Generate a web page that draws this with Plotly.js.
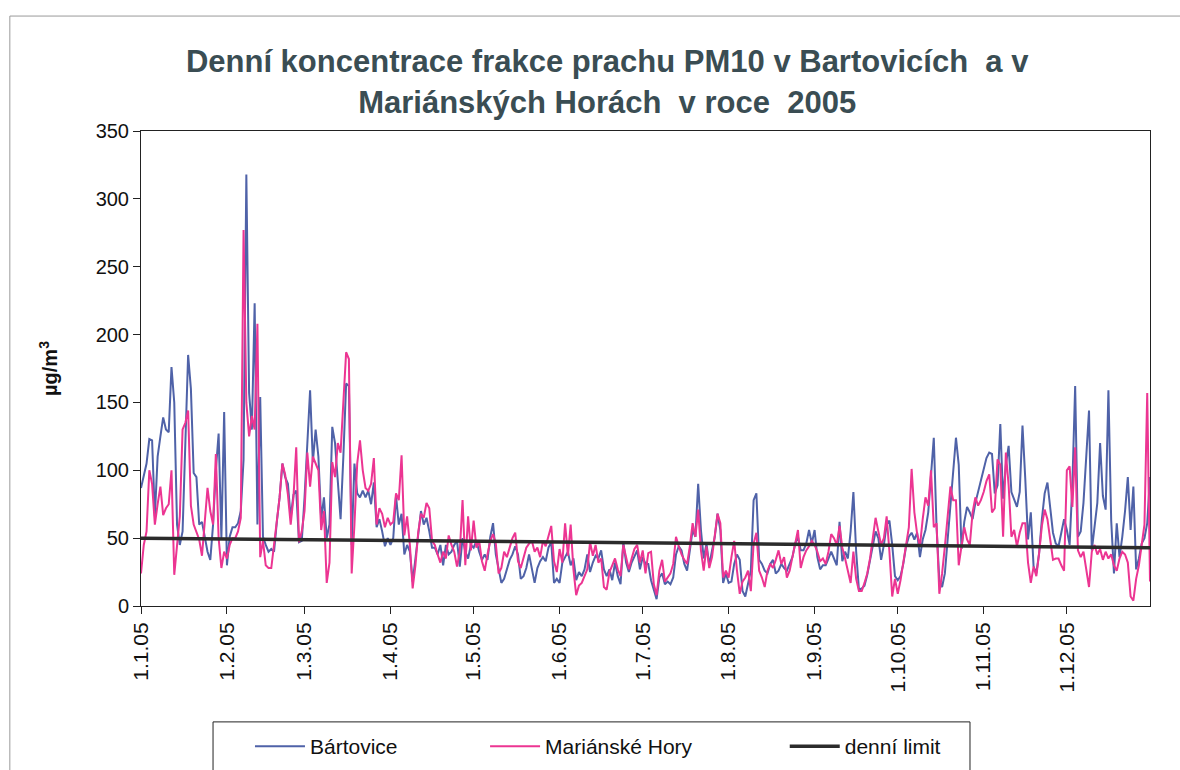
<!DOCTYPE html>
<html>
<head>
<meta charset="utf-8">
<script src="https://cdn.plot.ly/plotly-3.0.1.min.js"></script>
<style>html,body{margin:0;padding:0;background:#fff;}#chart{width:1180px;height:770px;}</style>
</head>
<body>
<div id="chart"></div>
<script>
// Daily PM10 values (µg/m3), month by month
const bartoviceJan = [87,95,105,123,122,66,110,125,139,130,128,176,150,60,45,55,120,185,160,98,95,60,62,50,40,34,60,100,127,50,143];
const bartoviceFeb = [30,51,58,58,61,70,108,318,157,130,223,60,154,51,45,40,42,40,62,80,105,95,90,65,82,85,47,48];
const bartoviceMar = [80,122,159,106,130,110,64,80,50,60,132,120,88,64,110,164,162,45,105,83,80,85,80,85,75,91,58,64,55,44,50];
const bartoviceApr = [45,50,81,60,68,38,45,40,18,35,54,70,60,65,55,43,43,38,45,30,45,38,40,45,48,29,50,40,35,45];
const bartoviceMay = [43,48,40,34,38,34,51,61,38,28,17,20,28,34,38,44,38,20,22,28,38,26,17,28,33,36,33,43,47,17,20];
const bartoviceJun = [17,32,36,40,30,35,19,25,22,27,38,25,32,37,35,41,27,22,27,19,32,22,16,47,32,25,32,37,41,27];
const bartoviceJul = [36,31,31,19,11,5,21,24,16,18,16,21,38,44,41,31,26,41,56,51,90,56,35,46,30,41,51,68,56,17,24];
const bartoviceAug = [17,18,31,38,34,11,7,16,26,78,83,34,31,26,24,31,34,24,26,31,28,26,31,36,46,51,41,41,46,56,46];
const bartoviceSep = [56,36,27,30,30,35,40,35,30,62,33,40,35,55,84,40,12,13,15,23,33,45,55,50,34,45,60,63,45,22];
const bartoviceOct = [19,22,31,44,51,54,49,54,36,49,56,69,94,124,58,19,14,24,49,74,99,124,104,42,62,73,69,64,76,84,94];
const bartoviceNov = [100,109,113,112,83,89,134,79,104,118,84,79,73,84,133,94,49,69,29,24,39,64,83,91,74,54,46,44,54,64];
const bartoviceDec = [56,45,90,162,51,55,76,110,144,41,60,76,120,81,71,159,63,24,61,36,51,70,95,56,88,27,35,46,50,61,95];

const horyJan = [24,45,55,100,90,60,75,88,67,72,75,100,23,45,66,130,135,144,74,60,55,49,37,62,87,70,60,112,50,28,40];
const horyFeb = [35,45,50,50,55,65,277,150,125,140,130,208,36,48,30,28,28,45,60,80,105,97,82,60,80,117,47,55];
const horyMar = [70,113,88,110,105,100,56,70,17,32,106,95,120,113,150,187,182,24,60,105,122,100,87,85,90,109,60,72,68,58,65];
const horyApr = [60,62,83,78,111,52,66,45,13,30,54,68,65,76,72,48,45,38,32,40,35,52,45,40,29,40,78,30,66,41];
const horyMay = [63,43,48,33,26,38,48,53,46,24,28,40,36,43,50,54,33,28,36,43,46,48,40,43,36,48,44,51,59,33,25];
const horyJun = [42,32,61,37,60,27,8,15,17,22,27,47,37,45,32,35,14,12,25,30,35,27,22,45,37,27,35,42,45,32];
const horyJul = [41,24,39,40,16,8,26,34,18,21,24,31,51,44,38,34,31,44,61,51,71,41,26,44,28,36,51,68,61,21,26];
const horyAug = [21,36,48,26,9,18,21,26,11,46,54,26,21,14,26,31,28,34,41,31,36,21,26,36,46,56,28,36,41,44,48];
const horySep = [45,40,33,35,31,40,53,50,45,59,43,35,25,17,40,20,11,11,17,24,35,50,65,55,45,50,66,40,7,20];
const horyOct = [9,19,31,43,58,101,69,53,44,64,80,74,100,58,61,9,24,44,65,88,78,78,30,44,58,49,45,69,80,74,78];
const horyNov = [84,92,97,69,72,108,104,51,113,89,51,56,44,54,61,61,32,17,29,22,39,59,71,64,49,34,35,35,30,26];
const horyDec = [100,103,73,117,41,36,40,26,14,40,45,38,42,34,40,35,38,30,26,35,40,38,32,7,4,20,30,45,60,157,18];

// daily limit line as drawn (start / end of year)
const limitDays = [0, 364];
const limitValues = [50, 43];

// month start day index and tick labels
const monthStarts = [0,31,59,90,120,151,181,212,243,273,304,334];
const monthLabels = ["1.1.05","1.2.05","1.3.05","1.4.05","1.5.05","1.6.05","1.7.05","1.8.05","1.9.05","1.10.05","1.11.05","1.12.05"];

const bartovice = [].concat(bartoviceJan,bartoviceFeb,bartoviceMar,bartoviceApr,bartoviceMay,bartoviceJun,bartoviceJul,bartoviceAug,bartoviceSep,bartoviceOct,bartoviceNov,bartoviceDec);
const hory = [].concat(horyJan,horyFeb,horyMar,horyApr,horyMay,horyJun,horyJul,horyAug,horySep,horyOct,horyNov,horyDec);
const days = bartovice.map((_, i) => i);

const FONT = '"Liberation Sans", Arial, sans-serif';

const traces = [
  {x: days, y: bartovice, type: 'scatter', mode: 'lines', name: 'Bártovice', legend: 'legend',
   line: {color: '#4f62a8', width: 2}},
  {x: days, y: hory, type: 'scatter', mode: 'lines', name: 'Mariánské Hory', legend: 'legend2',
   line: {color: '#ec3592', width: 2}},
  {x: limitDays, y: limitValues, type: 'scatter', mode: 'lines', name: 'denní limit', legend: 'legend3',
   line: {color: '#2b2b2b', width: 3.5}}
];

function legendAt(xp) {
  return {
    orientation: 'h', x: xp, xanchor: 'left', y: -0.2526, yanchor: 'top',
    borderwidth: 0, bgcolor: 'rgba(0,0,0,0)', itemwidth: 50,
    font: {family: FONT, size: 21, color: '#111'}
  };
}

const layout = {
  width: 1180, height: 770,
  paper_bgcolor: '#ffffff', plot_bgcolor: '#ffffff',
  font: {family: FONT, color: '#111', size: 20},
  margin: {l: 141, r: 30, t: 131, b: 164, autoexpand: false},
  title: {
    text: 'Denní koncentrace frakce prachu PM10 v Bartovicích  a v<br>Mariánských Horách  v roce  2005',
    font: {family: FONT, size: 31, color: '#3a4d53', weight: 'bold'},
    xref: 'paper', x: 0.462, xanchor: 'center',
    yref: 'container', y: 0.906, yanchor: 'top'
  },
  xaxis: {
    range: [0, 364],
    tickmode: 'array', tickvals: monthStarts, ticktext: monthLabels,
    tickangle: -90, ticks: 'outside', ticklen: 7, tickcolor: '#222',
    showline: true, linecolor: '#222', linewidth: 1, mirror: true,
    showgrid: false, zeroline: false, automargin: false,
    tickfont: {family: FONT, size: 21, color: '#111'}
  },
  yaxis: {
    range: [0, 350], tickmode: 'linear', tick0: 0, dtick: 50,
    ticks: 'outside', ticklen: 7, tickcolor: '#222',
    showline: true, linecolor: '#222', linewidth: 1, mirror: true,
    showgrid: false, zeroline: false, automargin: false,
    tickfont: {family: FONT, size: 20, color: '#111'},
    title: {text: 'µg/m<sup>3</sup>', font: {family: FONT, size: 20, color: '#111', weight: 'bold'}, standoff: 32}
  },
  showlegend: true,
  legend: legendAt(0.108),
  legend2: legendAt(0.341),
  legend3: legendAt(0.638),
  shapes: [
    {type: 'rect', xref: 'paper', yref: 'paper', x0: 0.0714, x1: 0.8216, y0: -0.244, y1: -0.40,
     line: {color: '#222', width: 1}, fillcolor: 'rgba(0,0,0,0)', layer: 'below'},
    {type: 'rect', xref: 'paper', yref: 'paper', x0: -0.130, x1: 1.1, y0: -0.45, y1: 1.242,
     line: {color: '#9a9a9a', width: 1}, fillcolor: 'rgba(0,0,0,0)', layer: 'below'}
  ]
};

Plotly.newPlot('chart', traces, layout, {displayModeBar: false, staticPlot: true});
</script>
</body>
</html>
